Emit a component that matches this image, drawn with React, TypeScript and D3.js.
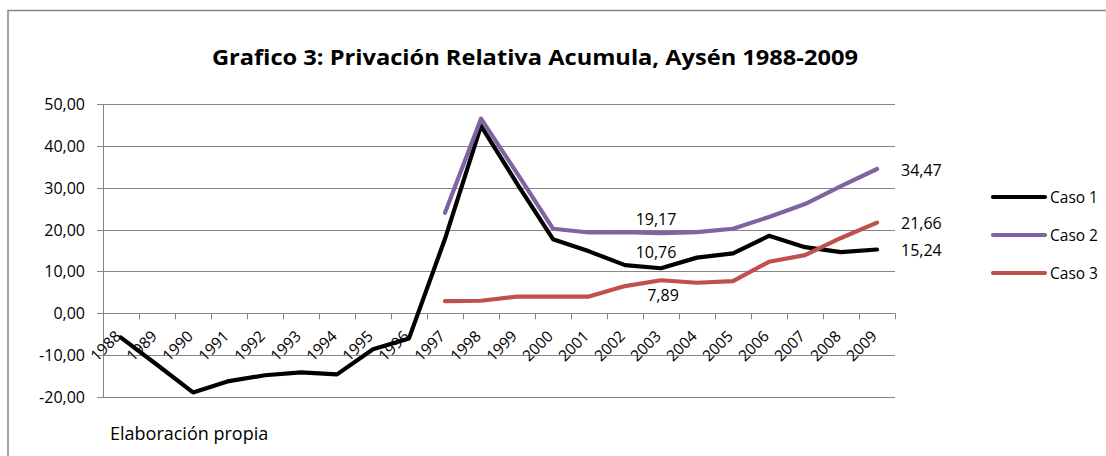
import React from "react";
import * as d3 from "d3";

const years = ["1988", "1989", "1990", "1991", "1992", "1993", "1994", "1995", "1996", "1997", "1998",
  "1999", "2000", "2001", "2002", "2003", "2004", "2005", "2006", "2007", "2008", "2009"];
const caso1 = [-5.8, -12.3, -18.9, -16.2, -14.8, -14.1, -14.6, -8.6, -6.0, 17.8, 44.8,
  31.0, 17.7, 14.8, 11.5, 10.76, 13.3, 14.3, 18.5, 15.8, 14.6, 15.24];
const caso2 = [null, null, null, null, null, null, null, null, null, 24.0, 46.5,
  33.5, 20.2, 19.3, 19.4, 19.17, 19.4, 20.2, 23.0, 26.1, 30.4, 34.47];
const caso3 = [null, null, null, null, null, null, null, null, null, 2.9, 3.0,
  4.0, 4.0, 4.0, 6.5, 7.89, 7.3, 7.7, 12.3, 13.9, 18.0, 21.66];
const yTicks = [50, 40, 30, 20, 10, 0, -10, -20];
const seriesNames = ["Caso 1", "Caso 2", "Caso 3"];
const colors = ["#000000", "#8064A2", "#C0504D"];
const title = "Grafico 3: Privación Relativa Acumula, Aysén 1988-2009";
const note = "Elaboración propia";

const font = "'Open Sans', sans-serif";
const fmt = (v: number) => v.toFixed(2).replace(".", ",");

export default function App() {
  const x = d3.scaleBand<string>().domain(years).range([103, 895]);
  const y = d3.scaleLinear().domain([-20, 50]).range([397, 104]);
  const cx = (i: number) => (x(years[i]) as number) + x.bandwidth() / 2;
  const grid = "#868686";

  const line = d3
    .line<number | null>()
    .defined((d) => d !== null)
    .x((_, i) => cx(i))
    .y((d) => y(d as number));

  const series = [caso1, caso2, caso3];
  const last = years.length - 1;
  const i2003 = years.indexOf("2003");

  return (
    <svg width={1106} height={456} style={{ position: "absolute", left: 0, top: 0 }} fontFamily={font}>
      <rect x={8} y={10.5} width={1200} height={600} fill="#fff" stroke={grid} strokeWidth={1.5} />
      <text x={212} y={65} fontSize={22} fontWeight="bold" textLength={646} lengthAdjust="spacingAndGlyphs">{title}</text>

      {yTicks.map((t) => (
        <g key={t}>
          <line x1={97} x2={895} y1={Math.round(y(t)) + 0.5} y2={Math.round(y(t)) + 0.5} stroke={grid} />
          <text x={85} y={y(t) + 6} textAnchor="end" fontSize={16}>{fmt(t)}</text>
        </g>
      ))}
      <line x1={103.5} x2={103.5} y1={y(50)} y2={y(-20)} stroke={grid} />

      {years.concat([""]).map((yr, i) => {
        const px = Math.round(103 + i * x.step()) + 0.5;
        return <line key={"t" + i} x1={px} x2={px} y1={y(0)} y2={y(0) + 6} stroke={grid} />;
      })}
      {years.map((yr, i) => (
        <text key={yr} transform={`translate(${cx(i) + 1},${y(0) + 24}) rotate(-45)`} textAnchor="end" fontSize={15.5}>{yr}</text>
      ))}

      {series.map((s, k) => (
        <path key={k} d={line(s) as string} fill="none" stroke={colors[k]} strokeWidth={4.2} strokeLinejoin="round" strokeLinecap="round" />
      ))}

      <text x={cx(i2003) - 5} y={y(caso2[i2003] as number) - 8} textAnchor="middle" fontSize={16}>{fmt(caso2[i2003] as number)}</text>
      <text x={cx(i2003) - 5} y={y(caso1[i2003]) - 10} textAnchor="middle" fontSize={16}>{fmt(caso1[i2003])}</text>
      <text x={cx(i2003) + 2} y={y(caso3[i2003] as number) + 21} textAnchor="middle" fontSize={16}>{fmt(caso3[i2003] as number)}</text>
      {series.map((s, k) => (
        <text key={"l" + k} x={cx(last) + 24} y={y(s[last] as number) + 6.5} fontSize={16}>{fmt(s[last] as number)}</text>
      ))}

      {seriesNames.map((n, k) => (
        <g key={n}>
          <line x1={993} x2={1045} y1={197 + k * 38} y2={197 + k * 38} stroke={colors[k]} strokeWidth={4.2} strokeLinecap="round" />
          <text x={1050} y={203 + k * 38} fontSize={15.5}>{n}</text>
        </g>
      ))}

      <text x={110} y={440} fontSize={18}>{note}</text>
    </svg>
  );
}
